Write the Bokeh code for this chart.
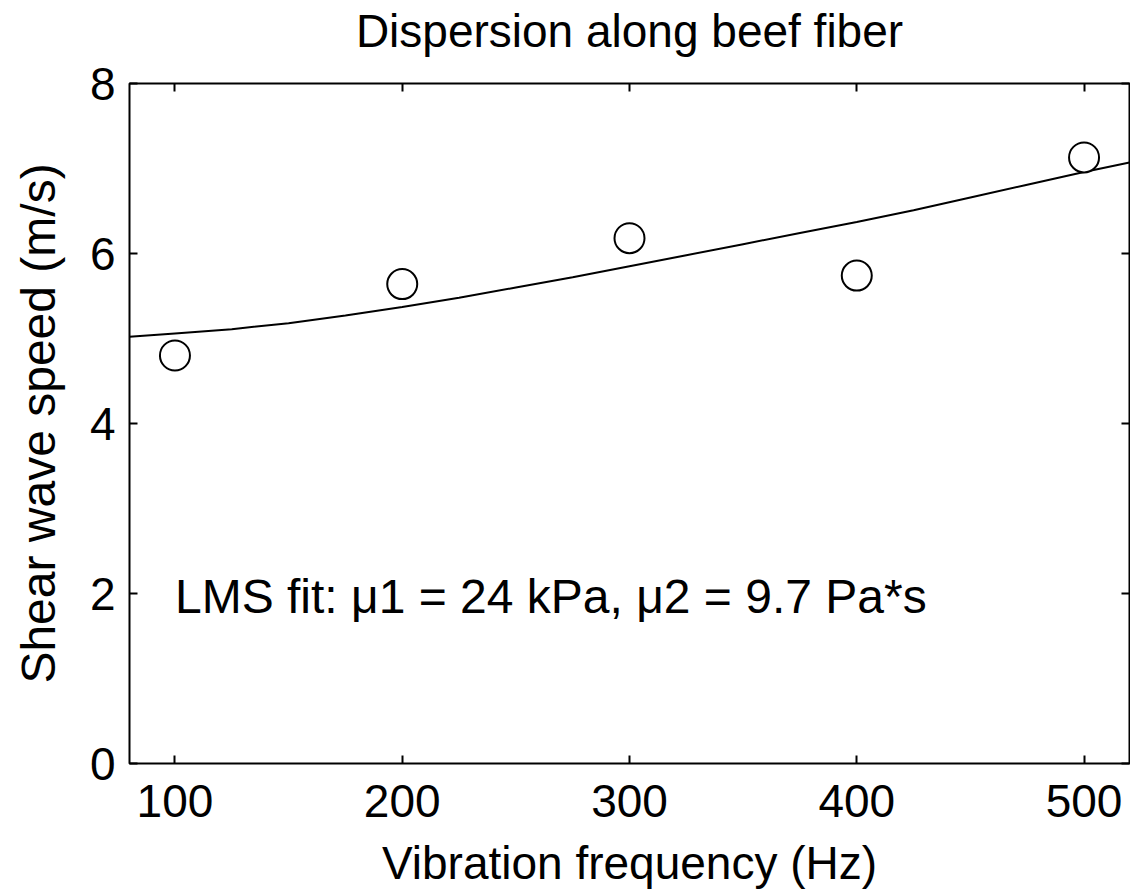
from bokeh.plotting import figure
from bokeh.models import Range1d, LinearAxis, FixedTicker
from bokeh.models import Label
from bokeh.embed import file_html
from bokeh.resources import INLINE

# measured data
freq_hz = [100, 200, 300, 400, 500]
speed_ms = [4.80, 5.64, 6.18, 5.74, 7.13]

# fitted curve
fit_freq = [80, 100, 125, 150, 175, 200, 225, 250, 275, 300, 325, 350, 375, 400,
            425, 450, 475, 500, 520]
fit_speed = [5.02, 5.06, 5.11, 5.18, 5.27, 5.37, 5.48, 5.60, 5.72, 5.85, 5.98, 6.11,
             6.24, 6.37, 6.51, 6.66, 6.81, 6.96, 7.07]

x_ticks = [100, 200, 300, 400, 500]
y_ticks = [0, 2, 4, 6, 8]

title_text = "Dispersion along beef fiber"
fit_text = "LMS fit: \u03bc1 = 24 kPa, \u03bc2 = 9.7 Pa*s"
x_label = "Vibration frequency (Hz)"
y_label = "Shear wave speed (m/s)"

FONT = "Liberation Sans"
FS = "46px"

p = figure(width=1130, height=891, output_backend="svg", toolbar_location=None,
           x_range=Range1d(80, 520), y_range=Range1d(0, 8),
           min_border_left=129, min_border_right=1, min_border_top=83, min_border_bottom=128,
           x_axis_location=None, y_axis_location=None)
p.grid.visible = False
p.outline_line_color = "black"
p.outline_line_width = 2
p.background_fill_color = "white"
p.border_fill_color = "white"

def style_axis(ax, ticks, show_labels, label=None, label_size=FS):
    ax.ticker = FixedTicker(ticks=ticks)
    ax.axis_line_color = None
    ax.major_tick_in = 8
    ax.major_tick_out = 0
    ax.major_tick_line_width = 2
    ax.major_tick_line_color = "black"
    ax.minor_tick_line_color = None
    ax.major_label_text_font = FONT
    ax.major_label_text_font_size = FS
    ax.major_label_text_color = "black"
    if not show_labels:
        ax.major_label_overrides = {t: "" for t in ticks}
        ax.major_label_standoff = 0
    if label:
        ax.axis_label = label
        ax.axis_label_text_font = FONT
        ax.axis_label_text_font_size = label_size
        ax.axis_label_text_font_style = "normal"
        ax.axis_label_text_color = "black"

xb = LinearAxis()
style_axis(xb, x_ticks, True, x_label)
xb.major_label_standoff = 21
xb.axis_label_standoff = 17
p.add_layout(xb, "below")

yl = LinearAxis()
style_axis(yl, y_ticks, True, y_label, label_size="48px")
yl.major_label_standoff = 14
yl.axis_label_standoff = 22
p.add_layout(yl, "left")

# top axis: carries the inside ticks and the chart title
xt = LinearAxis()
style_axis(xt, x_ticks, False, title_text)
xt.axis_label_standoff = 27
p.add_layout(xt, "above")

yr = LinearAxis()
style_axis(yr, y_ticks, False)
p.add_layout(yr, "right")

p.line(fit_freq, fit_speed, line_color="black", line_width=2)
p.scatter(freq_hz, speed_ms, marker="circle", size=30, fill_color="white",
          line_color="black", line_width=2)

p.add_layout(Label(x=100, y=1.96, text=fit_text, text_font=FONT, text_font_size="48px",
                   text_baseline="alphabetic", text_align="left", text_color="black"))

open("out.html", "w").write(file_html(p, INLINE))
